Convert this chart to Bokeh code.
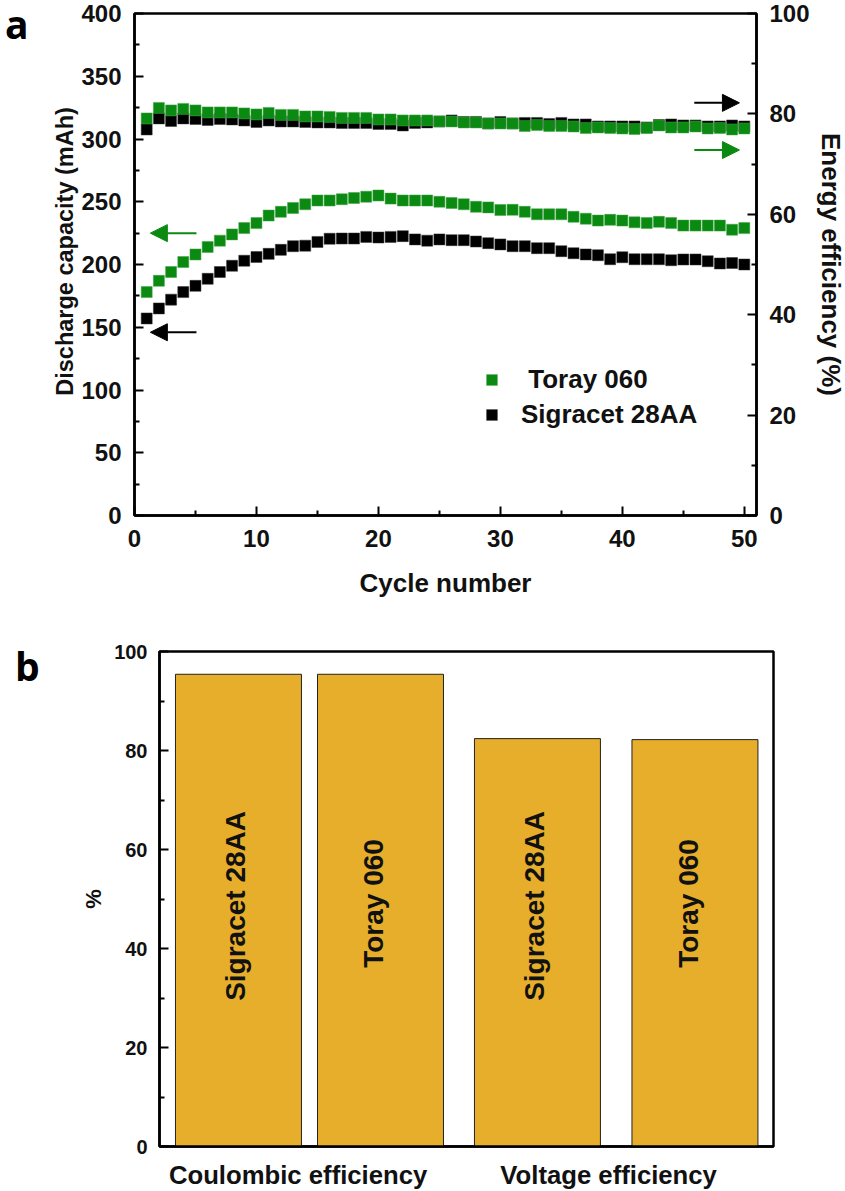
from math import pi
from bokeh.plotting import figure
from bokeh.models import (Range1d, LinearAxis, FixedTicker, Arrow, NormalHead, Legend, LegendItem, ColumnDataSource, Div)
from bokeh.core.properties import value
from bokeh.embed import file_html
from bokeh.resources import INLINE

FONT = "Liberation Sans"
GREEN = "#0b8a12"
BLACK = "#000000"
GOLD = "#e6ae2b"

cycles = list(range(1, 51))
toray_capacity = [178, 187, 194, 202, 208, 214, 219, 224, 229, 233,
                  239, 242, 245, 248, 251, 251, 252, 253, 254, 255,
                  252.5, 251, 251, 251, 250, 249, 248, 246, 245.5, 243.4,
                  243.6, 242, 240, 240, 240, 238, 236.5, 235, 235.6, 235,
                  233.6, 233, 234, 233, 231, 231, 231, 231, 227.7, 229]
sigracet_capacity = [157, 165, 172, 178, 183, 188.6, 194, 199, 203, 206,
                     208.5, 211.7, 214.6, 215, 218, 220.5, 220.7, 220.7, 222, 221.5,
                     222, 222.6, 220, 219, 220, 219.4, 219.4, 218.3, 217, 216,
                     214.6, 214.6, 213, 213, 210.6, 209, 208, 207.4, 204.2, 205.8,
                     204.2, 204.2, 204.2, 203.4, 204, 204, 202.6, 200.8, 201.2, 200]
toray_eff = [79.1, 81.2, 80.7, 81, 80.7, 80.3, 80.3, 80.3, 80.1, 79.9,
             80.2, 79.8, 79.8, 79.5, 79.5, 79.4, 79.2, 79.2, 79.2, 78.9,
             78.9, 78.7, 78.7, 78.7, 78.5, 78.5, 78.3, 78.3, 78.1, 78.1,
             78.1, 77.6, 77.8, 77.6, 77.6, 77.5, 77.2, 77.3, 77.2, 77.1,
             77, 77.2, 77.7, 77.3, 77.3, 77.5, 77.1, 77.2, 76.9, 77.1]
sigracet_eff = [76.9, 79.1, 78.6, 79.1, 79, 78.8, 79, 78.9, 78.7, 78.4,
                78.7, 78.5, 78.5, 78.4, 78.3, 78.3, 78.2, 78.2, 78.2, 78,
                78, 77.7, 78.2, 78.3, 78.5, 78.7, 78.4, 78.4, 78.1, 78.4,
                78.1, 78.2, 78.2, 78, 78.2, 77.9, 77.9, 77.5, 77.5, 77.5,
                77.5, 77.3, 77.8, 77.9, 77.7, 77.7, 77.5, 77.5, 77.7, 77.5]

bar_labels = ["Sigracet 28AA", "Toray 060", "Sigracet 28AA", "Toray 060"]
bar_positions = [1, 2, 3.105, 4.214]
bar_values = [95.4, 95.4, 82.4, 82.2]
group_positions = [1.42, 3.606]
group_labels = ["Coulombic efficiency", "Voltage efficiency"]


def style_axis(ax, size="24px", label_size="26px"):
    ax.axis_line_color = "black"
    ax.axis_line_width = 2.5
    ax.major_tick_line_color = "black"
    ax.minor_tick_line_color = "black"
    ax.major_tick_line_width = 2
    ax.minor_tick_line_width = 2
    ax.major_tick_in = 9
    ax.major_tick_out = 0
    ax.minor_tick_in = 5
    ax.minor_tick_out = 0
    ax.major_label_standoff = 13
    ax.major_label_text_font = FONT
    ax.major_label_text_font_style = "bold"
    ax.major_label_text_font_size = size
    ax.major_label_text_color = "#111111"
    ax.axis_label_text_font = FONT
    ax.axis_label_text_font_style = "bold"
    ax.axis_label_text_font_size = label_size
    ax.axis_label_text_color = "#111111"


# ---------- panel a ----------
a = figure(width=None, height=None, frame_width=622, frame_height=502, output_backend="svg", toolbar_location=None,
           x_range=Range1d(0, 51), y_range=Range1d(0, 400),
           min_border_left=134, min_border_right=89, min_border_top=13, min_border_bottom=85)
a.grid.visible = False
a.outline_line_color = "black"
a.outline_line_width = 2.5
a.extra_y_ranges = {"eff": Range1d(0, 100)}
right = LinearAxis(y_range_name="eff", axis_label="Energy efficiency (%)",
                   ticker=FixedTicker(ticks=[0, 20, 40, 60, 80, 100],
                                      minor_ticks=[10, 30, 50, 70, 90]))
a.add_layout(right, "right")
a.xaxis.axis_label = "Cycle number"
a.xaxis.ticker = FixedTicker(ticks=[0, 10, 20, 30, 40, 50], minor_ticks=[5, 15, 25, 35, 45])
a.yaxis[0].axis_label = "\u00a0\u00a0\u00a0\u00a0Discharge capacity (mAh)"
a.yaxis[0].ticker = FixedTicker(ticks=list(range(0, 401, 50)), minor_ticks=list(range(25, 400, 50)))
for ax in [a.xaxis[0], a.yaxis[0], right]:
    style_axis(ax)
a.yaxis[0].axis_label_text_font_size = "23.5px"
right.axis_label_text_font_size = "26px"
a.yaxis[0].axis_label_standoff = 0
right.axis_label_standoff = 3
a.xaxis[0].major_label_standoff = 14
a.xaxis[0].axis_label_standoff = 18

SIZE = 11
g_cap = a.scatter(cycles, toray_capacity, marker="square", size=SIZE, color=GREEN, line_color="#3ea343", line_width=0.5)
b_cap = a.scatter(cycles, sigracet_capacity, marker="square", size=SIZE, color=BLACK, line_color="#333333", line_width=0.5)
a.scatter(cycles, sigracet_eff, marker="square", size=SIZE, color=BLACK, line_color="#333333", line_width=0.5, y_range_name="eff")
a.scatter(cycles, toray_eff, marker="square", size=SIZE, color=GREEN, line_color="#3ea343", line_width=0.5, y_range_name="eff")

for xs, xe, y, col, rng in [(5.08, 1.3, 225, GREEN, None), (5.08, 1.3, 146, BLACK, None),
                            (45.9, 49.6, 82.2, BLACK, "eff"), (45.9, 49.6, 72.8, GREEN, "eff")]:
    kw = {"y_range_name": rng} if rng else {}
    a.add_layout(Arrow(end=NormalHead(size=17, fill_color=col, line_color=col),
                       x_start=xs, x_end=xe, y_start=y, y_end=y,
                       line_color=col, line_width=2, **kw))

leg = Legend(items=[LegendItem(label=" Toray 060", renderers=[g_cap]),
                    LegendItem(label="Sigracet 28AA", renderers=[b_cap])],
             location=(344, 85), border_line_color=None, background_fill_alpha=0,
             label_text_font=FONT, label_text_font_style="bold", label_text_font_size="26px",
             label_text_color="#111111", glyph_width=27, glyph_height=27, spacing=4, label_standoff=16)
a.add_layout(leg, "center")

# ---------- panel b ----------
b = figure(width=None, height=None, frame_width=614, frame_height=495, output_backend="svg", toolbar_location=None,
           x_range=Range1d(0.444, 4.767), y_range=Range1d(0, 100),
           min_border_left=159, min_border_right=72, min_border_top=51, min_border_bottom=45)
b.grid.visible = False
b.outline_line_color = "black"
b.outline_line_width = 2.5
b.xaxis.ticker = FixedTicker(ticks=group_positions)
b.xaxis.major_label_overrides = dict(zip(group_positions, group_labels))
b.yaxis.ticker = FixedTicker(ticks=[0, 20, 40, 60, 80, 100], minor_ticks=[10, 30, 50, 70, 90])
b.yaxis.axis_label = "%"
for ax in [b.xaxis[0], b.yaxis[0]]:
    style_axis(ax, "20px", "22px")
b.yaxis.major_label_standoff = 12
b.xaxis.major_tick_in = 0
b.xaxis.minor_tick_in = 0
b.xaxis.major_label_standoff = 14
b.xaxis.major_label_text_font_size = "25.7px"
b.yaxis.axis_label_standoff = 5
src = ColumnDataSource(dict(x=bar_positions, top=bar_values, label=bar_labels,
                            mid=[48.6, 49.1, 48.6, 49.1], nudge=[-3, -7, -3, -6]))
b.vbar(x="x", top="top", width=0.887, source=src, fill_color=GOLD, line_color="#222222", line_width=1)
b.text(x="x", y="mid", text="label", source=src, angle=pi / 2, text_align="center", text_baseline="middle",
       x_offset="nudge", text_font=value(FONT), text_font_style="bold", text_font_size="28px", text_color="#111111")


def panel_letter(text, left, top):
    return Div(text=text, width=30, height=42,
               styles={"position": "absolute", "left": f"{left}px", "top": f"{top}px", "z-index": "10",
                       "font-family": "Open Sans", "font-weight": "bold",
                       "font-size": "39px", "line-height": "38px", "color": "black"})


roots = [a, b, panel_letter("a", 0, 0), panel_letter("b", 10, 642)]
open("out.html", "w").write(file_html(roots, INLINE))
